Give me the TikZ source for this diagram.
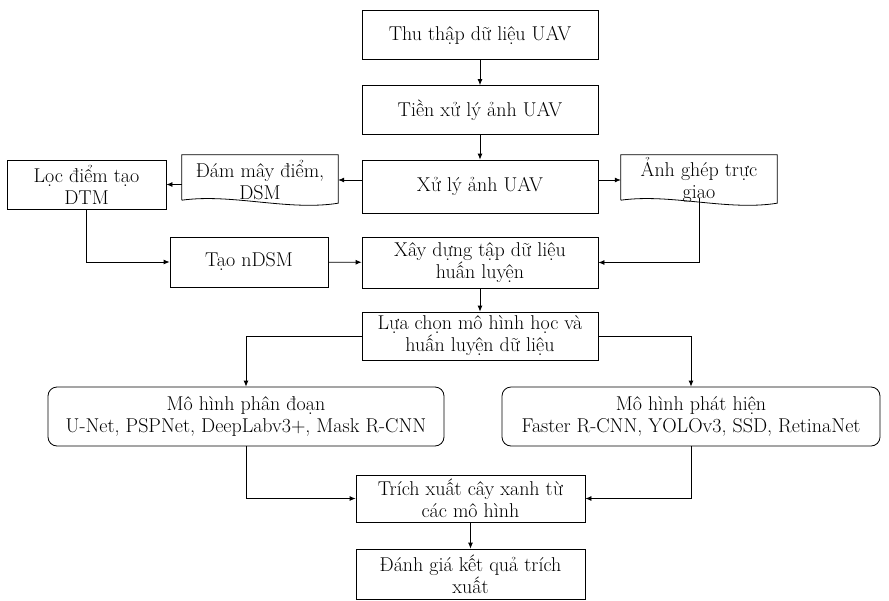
\documentclass[tikz,border=0pt]{standalone}
\usepackage{fontspec}
\usetikzlibrary{arrows.meta}
\begin{document}
\begin{tikzpicture}[x=1pt,y=-1pt,
  every node/.style={font=\fontsize{20}{22}\selectfont, align=center, inner sep=0pt},
  box/.style={draw, line width=0.8pt, minimum width=#1, minimum height=49pt},
  box/.default=236pt,
  rbox/.style={draw, line width=0.8pt, rounded corners=9pt, minimum width=#1, minimum height=59pt},
  docnode/.style={minimum width=156pt, minimum height=50pt},
  docline/.style={line width=0.8pt},
  arr/.style={line width=0.8pt, -{Latex[length=6pt,width=5pt]}},
  ln/.style={line width=0.8pt}]
\useasboundingbox (0,0) rectangle (889,600);
\node[box] (b1) at (480,35) {Thu thập dữ liệu UAV};
\node[box] (b2) at (480,110) {Tiền xử lý ảnh UAV};
\node[box, minimum height=53pt] (b3) at (480,186.5) {Xử lý ảnh UAV};
\node[docnode] (d1) at (260,180) {Đám mây điểm,\\DSM};
\node[docnode] (d2) at (699,180) {Ảnh ghép trực\\giao};
\node[box=159pt] (b6) at (86.5,184.5) {Lọc điểm tạo\\DTM};
\node[box=158pt, minimum height=50pt] (b7) at (249,262) {Tạo nDSM};
\node[box, minimum height=51pt] (b8) at (480,262.5) {Xây dựng tập dữ liệu\\huấn luyện};
\node[box, minimum height=48pt] (b9) at (480,336) {Lựa chọn mô hình học và\\huấn luyện dữ liệu};
\node[rbox=396pt] (m1) at (246,416.5) {Mô hình phân đoạn\\U-Net, PSPNet, DeepLabv3+, Mask R-CNN};
\node[rbox=378pt] (m2) at (691,416.5) {Mô hình phát hiện\\Faster R-CNN, YOLOv3, SSD, RetinaNet};
\node[box=229pt, minimum height=47pt] (b12) at (470.5,498.5) {Trích xuất cây xanh từ\\các mô hình};
\node[box=229pt, minimum height=50pt] (b13) at (470.5,574) {Đánh giá kết quả trích\\xuất};
% document shapes
\foreach \d in {d1,d2}{
  \draw[docline] ([yshift=5pt]\d.south west) -- (\d.north west) -- (\d.north east) -- ([yshift=2pt]\d.south east)
    .. controls ([xshift=-50pt,yshift=-6pt]\d.south east) and ([xshift=50pt,yshift=12pt]\d.south west) .. ([yshift=5pt]\d.south west);
}
% coordinates
\coordinate (c6) at (b6.south |- b7.west);
\coordinate (c5) at (d2.south |- b8.east);
\coordinate (c9l) at (m1.north |- b9.west);
\coordinate (c9r) at (m2.north |- b9.east);
\coordinate (c10) at (m1.south |- b12.west);
\coordinate (c11) at (m2.south |- b12.east);
% connectors
\draw[arr] (b1) -- (b2);
\draw[arr] (b2) -- (b3);
\draw[arr] (b3.west |- d1.east) -- (d1.east);
\draw[arr] (b3.east |- d2.west) -- (d2.west);
\draw[arr] (d1.west |- b6.east) -- (b6.east);
\draw[arr] (b6.south) -- (c6) -- (b7.west);
\draw[arr] (b7) -- (b8);
\draw[arr] ([yshift=7pt]d2.south) -- (c5) -- (b8.east);
\draw[arr] (b8) -- (b9);
\draw[arr] (b9.west) -- (c9l) -- (m1.north);
\draw[arr] (b9.east) -- (c9r) -- (m2.north);
\draw[arr] (m1.south) -- (c10) -- (b12.west);
\draw[arr] (m2.south) -- (c11) -- (b12.east);
\draw[arr] (b12) -- (b13);
\end{tikzpicture}
\end{document}
